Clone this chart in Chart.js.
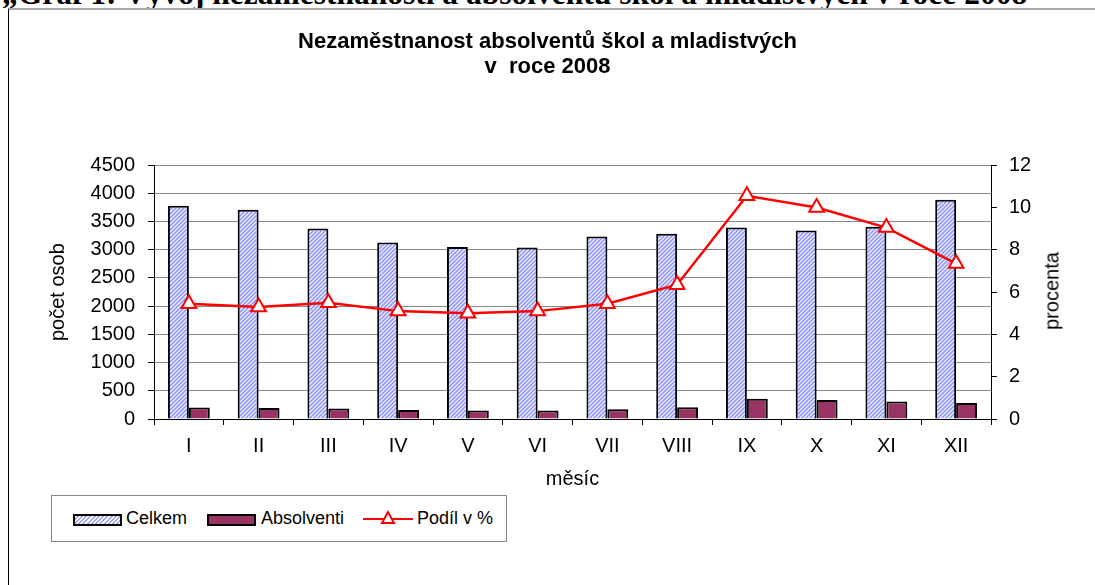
<!DOCTYPE html>
<html>
<head>
<meta charset="utf-8">
<script src="https://cdn.jsdelivr.net/npm/chart.js@4/dist/chart.umd.min.js"></script>
<style>
    body { margin: 0; background: #fff; font-family: Arial, "Liberation Sans", sans-serif; }
    #page { position: relative; width: 1095px; height: 585px; overflow: hidden; }
    #header { position: absolute; left: 0; top: 0; width: 1095px; height: 8px; overflow: hidden; }
    #header span { position: absolute; left: 2px; top: -22px; white-space: nowrap;
        font: bold 31.5px "Liberation Serif", "Times New Roman", serif; line-height: 32px; }
    #frame { position: absolute; left: 8px; top: 8px; width: 1100px; height: 600px;
        border-top: 2px solid #aaa; border-left: 1px solid #000; }
    #chartBox { position: absolute; left: 0; top: 0; width: 1095px; height: 585px; }
    #rightTitle { position: absolute; left: 1052px; top: 291px; font-size: 20px; white-space: nowrap;
        transform: translate(-50%, -50%) rotate(-90deg); }
    #legend { position: absolute; left: 51px; top: 495px; width: 454px; height: 45px;
        border: 1px solid #888; background: #fff; }
    .item { position: absolute; top: 10px; font-size: 18px; line-height: 24px; white-space: nowrap; }
    .swatch { position: absolute; top: 18px; width: 45px; height: 8px; border: 2px solid #000; }
</style>
</head>
<body>
<div id="page">
    <div id="header"><span>„Graf 1: Vývoj nezaměstnanosti a absolventů škol a mladistvých v roce 2008</span></div>
    <div id="frame"></div>
    <div id="chartBox"><canvas id="chart"></canvas></div>
    <div id="rightTitle">procenta</div>
    <div id="legend">
        <div class="swatch" style="left:21px; background: repeating-linear-gradient(135deg, #fff 0 1.5px, #99a0ff 1.5px 3px);"></div>
        <div class="item" style="left:74px;">Celkem</div>
        <div class="swatch" style="left:155px; background:#993366;"></div>
        <div class="item" style="left:209px;">Absolventi</div>
        <svg style="position:absolute; left:311px; top:12px;" width="52" height="22">
            <line x1="0" y1="11" x2="50" y2="11" stroke="#ff0000" stroke-width="2"/>
            <polygon points="25,4 31,15 19,15" fill="#fff" stroke="#ff0000" stroke-width="2"/>
        </svg>
        <div class="item" style="left:365px;">Podíl v %</div>
    </div>
</div>
<script>
// ============== DATA ==============
const months = ['I', 'II', 'III', 'IV', 'V', 'VI', 'VII', 'VIII', 'IX', 'X', 'XI', 'XII'];
const celkem = [3779, 3709, 3375, 3129, 3050, 3040, 3235, 3285, 3393, 3340, 3410, 3885];
const absolventi = [205, 195, 185, 160, 150, 150, 175, 210, 360, 335, 310, 285];
const podil = [5.45, 5.3, 5.5, 5.1, 5.0, 5.1, 5.45, 6.35, 10.55, 10.0, 9.05, 7.35];
const leftTicks = [0, 500, 1000, 1500, 2000, 2500, 3000, 3500, 4000, 4500];
const rightTicks = [0, 2, 4, 6, 8, 10, 12];

const font = { family: 'Arial, "Liberation Sans", sans-serif', size: 20 };

// Diagonal hatch for "Celkem" bars
function makeHatch() {
    const c = document.createElement('canvas');
    c.width = 4;
    c.height = 4;
    const g = c.getContext('2d');
    g.fillStyle = '#ffffff';
    g.fillRect(0, 0, 4, 4);
    g.strokeStyle = '#9098ff';
    g.lineWidth = 1.7;
    g.beginPath();
    g.moveTo(-1, 5); g.lineTo(5, -1);
    g.moveTo(-1, 1); g.lineTo(1, -1);
    g.moveTo(3, 5); g.lineTo(5, 3);
    g.stroke();
    return g.createPattern(c, 'repeat');
}

const ctx = document.getElementById('chart').getContext('2d');

new Chart(ctx, {
    type: 'bar',
    data: {
        labels: months,
        datasets: [
            {
                type: 'line',
                label: 'Podíl v %',
                data: podil,
                yAxisID: 'y1',
                borderColor: '#ff0000',
                borderWidth: 2.5,
                pointStyle: 'triangle',
                pointRadius: 8.5,
                pointBackgroundColor: '#ffffff',
                pointBorderColor: '#ff0000',
                pointBorderWidth: 2,
                tension: 0,
                order: 0
            },
            {
                label: 'Celkem',
                data: celkem,
                yAxisID: 'y',
                backgroundColor: makeHatch(),
                borderColor: '#000',
                borderWidth: 2,
                categoryPercentage: 0.6,
                barPercentage: 1.0,
                order: 1
            },
            {
                label: 'Absolventi',
                data: absolventi,
                yAxisID: 'y',
                backgroundColor: '#993366',
                borderColor: '#000',
                borderWidth: 2,
                categoryPercentage: 0.6,
                barPercentage: 1.0,
                order: 2
            }
        ]
    },
    options: {
        responsive: true,
        maintainAspectRatio: false,
        animation: false,
        layout: { padding: { left: 0, right: 0, top: 0, bottom: 91 } },
        plugins: {
            legend: { display: false },
            tooltip: { enabled: false },
            title: {
                display: true,
                text: ['Nezaměstnanost absolventů škol a mladistvých', 'v  roce 2008'],
                color: '#000',
                font: { family: font.family, size: 22, weight: 'bold', lineHeight: 1.14 },
                padding: { top: 29, bottom: 86 }
            }
        },
        scales: {
            x: {
                grid: { drawOnChartArea: false, drawTicks: true, tickLength: 6, tickColor: '#000', offset: true },
                border: { color: '#000', width: 1 },
                ticks: { color: '#000', font: font, padding: 9, maxRotation: 0 },
                title: { display: true, text: 'měsíc', color: '#000', font: font, padding: { top: 0, bottom: 3 } },
                afterFit: function(scale) { scale.height = 75; }
            },
            y: {
                position: 'left',
                min: 0,
                max: 4500,
                afterBuildTicks: function(scale) { scale.ticks = leftTicks.map(v => ({ value: v })); },
                grid: { color: '#888', tickLength: 6, tickColor: '#000' },
                border: { color: '#000', width: 1 },
                ticks: { color: '#000', font: font, padding: 13, callback: v => String(v) },
                title: { display: true, text: 'počet osob', color: '#000', font: font, padding: { top: 46, bottom: 0 } },
                afterFit: function(scale) { scale.width = 154; }
            },
            y1: {
                position: 'right',
                min: 0,
                max: 12,
                afterBuildTicks: function(scale) { scale.ticks = rightTicks.map(v => ({ value: v })); },
                grid: { drawOnChartArea: false, tickLength: 6, tickColor: '#000' },
                border: { color: '#000', width: 1 },
                ticks: { color: '#000', font: font, padding: 12, callback: v => String(v) },
                title: { display: false },
                afterFit: function(scale) { scale.width = 104; }
            }
        }
    }
});
</script>
</body>
</html>
